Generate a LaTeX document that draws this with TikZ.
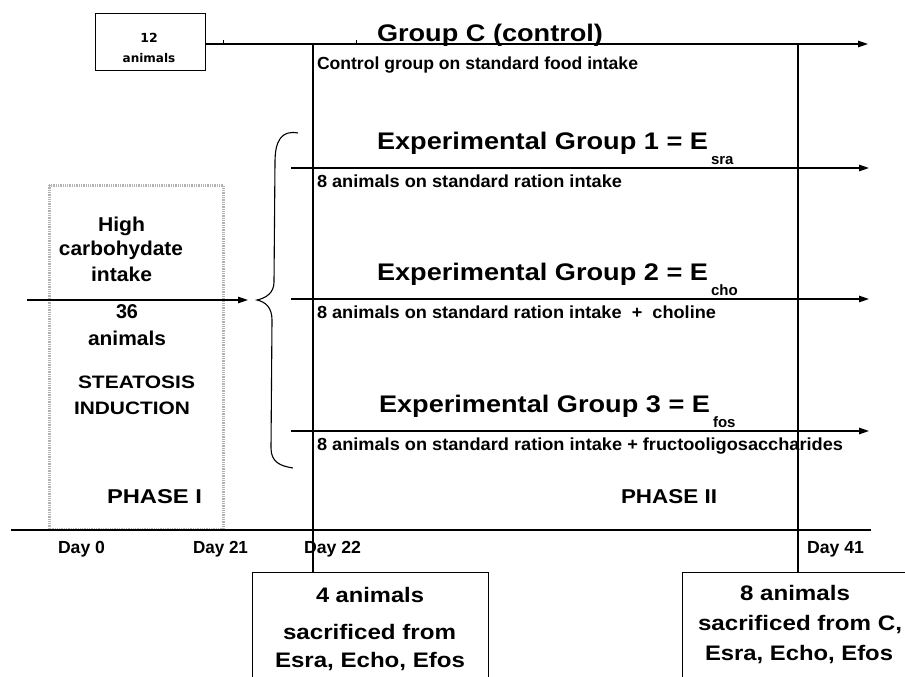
\documentclass[tikz,border=0pt]{standalone}
\usepackage{fontspec}
\setmainfont{Liberation Sans}
\newfontfamily\dvfont{DejaVu Sans}
\usepackage{graphicx}
\usetikzlibrary{arrows.meta}
\newcommand\fitw[2]{\resizebox{#1}{\height}{#2}}
\newcommand\fsz[1]{\fontsize{#1}{#1}\selectfont}
\begin{document}
\begin{tikzpicture}[x=1pt,y=-1pt,
  txt/.style={anchor=base west,inner sep=0pt,outer sep=0pt,font=\bfseries},
  ln/.style={line width=1.2pt,black},
  arr/.style={ln,-{Triangle[length=10pt,width=6.5pt]}},
  boxx/.style={draw,line width=1.2pt,inner sep=0pt,anchor=north west},
  dotbox/.style={draw=black!30,line width=3pt,dash pattern=on 1.3pt off 1pt},
]
\useasboundingbox (0,0) rectangle (905,677);
\clip (0,0) rectangle (905,677);

% source box
\node[boxx,minimum width=110pt,minimum height=57pt] (src) at (95,13) {};
\node[txt,anchor=base] (n12) at (149,43) {\dvfont\bfseries\fsz{12.5}12};
\node[txt,anchor=base] (an12) at (149,63) {\dvfont\bfseries\fsz{12}animals};

% bottom boxes
\node[boxx,minimum width=236pt,minimum height=130pt] (b1) at (252,572) {};
\node[boxx,minimum width=250pt,minimum height=130pt] (b2) at (682,572) {};

% coordinates
\coordinate (cEnd) at (868,44);
\coordinate (v1top) at (313,44);
\coordinate (v2top) at (798,43);
\coordinate (axL) at (11,530);
\coordinate (axR) at (871,530);
\coordinate (mS) at (27,300);
\coordinate (mE) at (248,300);
\coordinate (e1s) at (291,168);
\coordinate (e1e) at (869,168);
\coordinate (e2s) at (291,299);
\coordinate (e2e) at (869,299);
\coordinate (e3s) at (291,431);
\coordinate (e3e) at (869,431);

% phase I dotted box
\draw[dotbox] (49,185) rectangle (223,529);

% lines
\draw[arr] (src.east |- cEnd) -- (cEnd);
\draw[line width=0.8pt] (223,40) -- (223,44);
\draw[line width=0.8pt] (356,40) -- (356,44);
\draw[ln] (v1top) -- (v1top |- b1.north);
\draw[ln] (v2top) -- (v2top |- b2.north);
\draw[ln] (axL) -- (axR);
\draw[arr] (mS) -- (mE);
\draw[arr] (e1s) -- (e1e);
\draw[arr] (e2s) -- (e2e);
\draw[arr] (e3s) -- (e3e);

% brace
\draw[line width=1.1pt] (298,133) .. controls (282,130) and (275,140) .. (275,162)
  -- (274,282) .. controls (274,293) and (266,298) .. (257,300)
  .. controls (266,302) and (272,308) .. (272,320)
  -- (271,448) .. controls (271,462) and (280,466) .. (293,468);

% group titles
\node[txt] (tC) at (377,42) {\fsz{24}\fitw{226pt}{Group C (control)}};
\node[txt] (sC) at (317,70) {\fsz{17.5}\fitw{321pt}{Control group on standard food intake}};

\node[txt] (t1) at (377,149) {\fsz{24}\fitw{331pt}{Experimental Group 1 = E}};
\node[txt] (t1s) at (711,164) {\fsz{15}sra};
\node[txt] (s1) at (317,187) {\fsz{17.5}\fitw{305pt}{8 animals on standard ration intake}};

\node[txt] (t2) at (377,280) {\fsz{24}\fitw{331pt}{Experimental Group 2 = E}};
\node[txt] (t2s) at (711,295) {\fsz{15}cho};
\node[txt] (s2) at (317,318) {\fsz{17.5}\fitw{399pt}{8 animals on standard ration intake~~+~~choline}};

\node[txt] (t3) at (379,412) {\fsz{24}\fitw{331pt}{Experimental Group 3 = E}};
\node[txt] (t3s) at (713,427) {\fsz{15}fos};
\node[txt] (s3) at (317,450) {\fsz{17.5}\fitw{526pt}{8 animals on standard ration intake + fructooligosaccharides}};

% phase I texts
\node[txt] (hi) at (98,231) {\fsz{20}\fitw{47pt}{High}};
\node[txt] (carb) at (59,255) {\fsz{20}\fitw{124pt}{carbohydate}};
\node[txt] (intk) at (91,281) {\fsz{20}\fitw{61pt}{intake}};
\node[txt] (n36) at (116,318) {\fsz{20}\fitw{22pt}{36}};
\node[txt] (an36) at (88,345) {\fsz{20}\fitw{78pt}{animals}};
\node[txt] (stea) at (78,388) {\fsz{18}\fitw{117pt}{STEATOSIS}};
\node[txt] (indu) at (74,414) {\fsz{18}\fitw{116pt}{INDUCTION}};
\node[txt] (ph1) at (107,503) {\fsz{20}\fitw{95pt}{PHASE I}};
\node[txt] (ph2) at (621,503) {\fsz{20}\fitw{96pt}{PHASE II}};

% days
\node[txt] (d0) at (58,553) {\fsz{17.5}\fitw{47pt}{Day 0}};
\node[txt] (d21) at (193,553) {\fsz{17.5}\fitw{55pt}{Day 21}};
\node[txt] (d22) at (304,553) {\fsz{17.5}\fitw{57pt}{Day 22}};
\node[txt] (d41) at (807,553) {\fsz{17.5}\fitw{57pt}{Day 41}};

% box texts
\node[txt] (b1a) at (316,602) {\fsz{21}\fitw{108pt}{4 animals}};
\node[txt] (b1b) at (283,639) {\fsz{21}\fitw{173pt}{sacrificed from}};
\node[txt] (b1c) at (275,667) {\fsz{21}\fitw{190pt}{Esra, Echo, Efos}};
\node[txt] (b2a) at (740,600) {\fsz{21}\fitw{110pt}{8 animals}};
\node[txt] (b2b) at (698,630) {\fsz{21}\fitw{204pt}{sacrificed from C,}};
\node[txt] (b2c) at (705,660) {\fsz{21}\fitw{188pt}{Esra, Echo, Efos}};
\end{tikzpicture}
\end{document}
